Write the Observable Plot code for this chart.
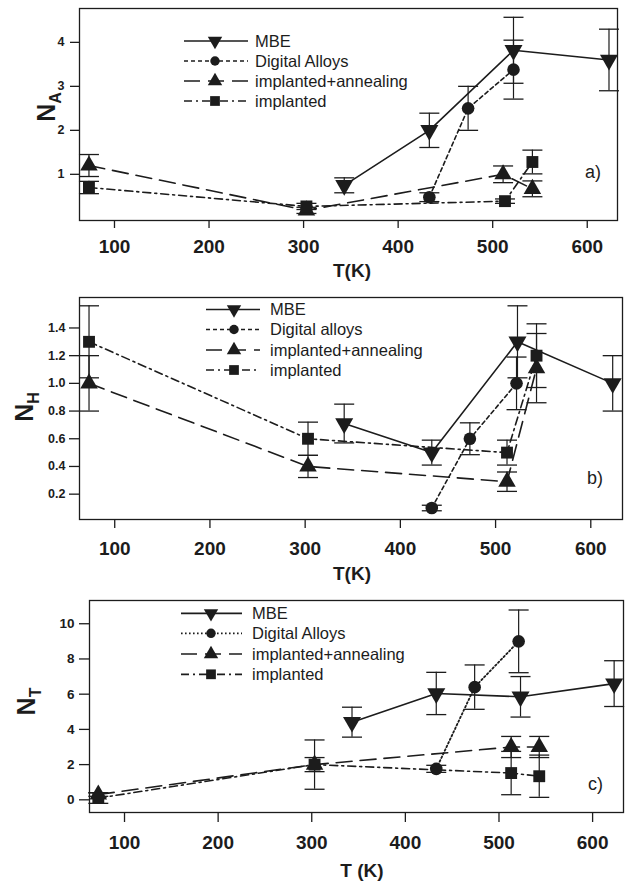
<!DOCTYPE html>
<html><head><meta charset="utf-8">
<script src="https://cdn.jsdelivr.net/npm/d3@7"></script>
<script src="https://cdn.jsdelivr.net/npm/@observablehq/plot@0.6"></script>
<style>
html,body{margin:0;padding:0;background:#fff;}
#wrap{position:relative;width:626px;height:883px;overflow:hidden;background:#fff;}
#wrap svg{position:absolute;left:0;overflow:visible;}
</style></head><body><div id="wrap"></div>
<script>
// ---------- shared ----------
const xTicks = [100, 200, 300, 400, 500, 600];
const namesA = ["MBE", "Digital Alloys", "implanted+annealing", "implanted"];
const namesB = ["MBE", "Digital alloys", "implanted+annealing", "implanted"];
const namesC = ["MBE", "Digital Alloys", "implanted+annealing", "implanted"];

// ---------- panel a) N_A ----------
const aYTicks = [1, 2, 3, 4];
const aMBE_T = [343, 433, 522, 623];
const aMBE_N = [0.75, 2.0, 3.82, 3.6];
const aMBE_E = [0.17, 0.39, 0.75, 0.7];
const aDA_T = [433, 474, 522];
const aDA_N = [0.48, 2.5, 3.38];
const aDA_E = [0.1, 0.5, 0.67];
const aIA_T = [73, 303, 511, 542];
const aIA_N = [1.2, 0.18, 1.0, 0.67];
const aIA_E = [0.25, 0.07, 0.19, 0.18];
const aIM_T = [73, 303, 513, 542];
const aIM_N = [0.7, 0.27, 0.39, 1.28];
const aIM_E = [0.14, 0.07, 0.05, 0.27];

// ---------- panel b) N_H ----------
const bYTicks = [0.2, 0.4, 0.6, 0.8, 1.0, 1.2, 1.4];
const bMBE_T = [341, 433, 523, 623];
const bMBE_N = [0.71, 0.5, 1.3, 1.0];
const bMBE_E = [0.14, 0.09, 0.26, 0.2];
const bDA_T = [433, 473, 522];
const bDA_N = [0.1, 0.6, 1.0];
const bDA_E = [0.02, 0.115, 0.19];
const bIA_T = [73, 303, 512, 543];
const bIA_N = [1.0, 0.4, 0.29, 1.11];
const bIA_E = [0.2, 0.08, 0.07, 0.25];
const bIM_T = [73, 303, 512, 543];
const bIM_N = [1.3, 0.6, 0.5, 1.2];
const bIM_E = [0.26, 0.12, 0.09, 0.23];

// ---------- panel c) N_T ----------
const cYTicks = [0, 2, 4, 6, 8, 10];
const cMBE_T = [343, 433, 523, 623];
const cMBE_N = [4.41, 6.04, 5.85, 6.6];
const cMBE_E = [0.85, 1.2, 1.15, 1.3];
const cDA_T = [433, 474, 521];
const cDA_N = [1.76, 6.4, 9.0];
const cDA_E = [0.2, 1.26, 1.78];
const cIA_T = [72, 303, 513, 543];
const cIA_N = [0.3, 2.0, 3.0, 3.0];
const cIA_E = [0.1, 0.4, 0.6, 0.6];
const cIM_T = [72, 303, 513, 543];
const cIM_N = [0.1, 2.0, 1.52, 1.34];
const cIM_E = [0.3, 1.4, 1.23, 1.2];

// ---------- drawing ----------
const INK = "#1c1c1c";
const FONT = "'Liberation Sans', Arial, Helvetica, sans-serif";
const capSymbol = {draw(ctx) { ctx.moveTo(-10, 0); ctx.lineTo(10, 0); }};
const downTriangle = {draw(ctx, size) {
  const h = Math.sqrt(size / (Math.sqrt(3) * 3)), s = Math.sqrt(3);
  ctx.moveTo(0, 2 * h); ctx.lineTo(-s * h, -h); ctx.lineTo(s * h, -h); ctx.closePath();
}};
const STY = [
  {symbol: downTriangle, r: 6.7, legendType: "down"},
  {symbol: "circle", r: 6.3, legendType: "circle"},
  {symbol: "triangle", r: 6.5, legendType: "up"},
  {symbol: "square", r: 6.7, legendType: "square"}
];
const rows = (T, N, E) => T.map((t, i) => ({T: t, N: N[i], e: E[i]}));

function panel(o) {
  const marks = [];
  o.series.forEach((s, k) => {
    const data = rows(s.T, s.N, s.E);
    marks.push(Plot.line(data, {x: "T", y: "N", stroke: INK, strokeWidth: s.w || 1.6, strokeDasharray: s.dash}));
  });
  o.series.forEach((s, k) => {
    const data = rows(s.T, s.N, s.E);
    marks.push(Plot.ruleX(data, {x: "T", y1: d => d.N - d.e, y2: d => d.N + d.e, stroke: INK, strokeWidth: 1.2}));
    marks.push(Plot.dot(data, {x: "T", y: d => d.N + d.e, symbol: capSymbol, fill: "none", stroke: INK, strokeWidth: 1.3}));
    marks.push(Plot.dot(data, {x: "T", y: d => d.N - d.e, symbol: capSymbol, fill: "none", stroke: INK, strokeWidth: 1.3}));
  });
  o.series.forEach((s, k) => {
    const st = STY[k];
    const data = rows(s.T, s.N, s.E);
    marks.push(Plot.dot(data, {x: "T", y: "N", symbol: st.symbol, r: st.r, fill: INK, stroke: "none"}));
  });
  marks.push(Plot.frame({stroke: INK, strokeWidth: 1.3}));
  marks.push(Plot.axisX({ticks: xTicks, tickSize: o.xTick[0], tickPadding: o.xTick[1], fontSize: 19, fontWeight: "bold", label: null, tickFormat: d => String(d), stroke: INK, strokeWidth: 1.3}));
  marks.push(Plot.axisY({ticks: o.yTicks, tickSize: o.yTick[0], tickPadding: o.yTick[1], fontSize: o.yFont, fontWeight: "bold", label: null, tickFormat: o.yFmt, stroke: INK, strokeWidth: 1.3}));

  const svg = Plot.plot({
    width: 626, height: o.height,
    marginTop: o.m[0], marginRight: o.m[1], marginBottom: o.m[2], marginLeft: o.m[3],
    x: {domain: o.xDomain},
    y: {domain: o.yDomain},
    style: {fontFamily: FONT, color: INK, background: "transparent", overflow: "visible"},
    marks
  });
  svg.style.top = o.top + "px";
  document.getElementById("wrap").appendChild(svg);
  const g = d3.select(svg).append("g").attr("font-family", FONT).attr("fill", INK).attr("text-anchor", "start");

  // legend
  const L = o.legend;
  o.series.forEach((s, k) => {
    const y = L.rows[k];
    g.append("line").attr("x1", L.x1).attr("x2", L.x2).attr("y1", y).attr("y2", y)
      .attr("stroke", INK).attr("stroke-width", s.w || 1.7).attr("stroke-dasharray", s.dash || null);
    const t = STY[k].legendType;
    const type = t === "circle" ? d3.symbolCircle : t === "square" ? d3.symbolSquare : d3.symbolTriangle;
    const size = t === "circle" ? 70 : t === "square" ? 95 : 90;
    g.append("path").attr("d", d3.symbol(type, size)())
      .attr("transform", `translate(${L.xm},${y})` + (t === "down" ? " rotate(180)" : ""))
      .attr("fill", INK);
    g.append("text").attr("x", L.xt).attr("y", y + 5.7).attr("font-size", 16.5)
      .attr("text-anchor", "start").text(o.names[k]);
  });

  // panel tag
  g.append("text").attr("x", o.tag[0]).attr("y", o.tag[1]).attr("font-size", 18)
    .attr("text-anchor", "start").text(o.tagText);
  // x label
  g.append("text").attr("x", o.xLab[0]).attr("y", o.xLab[1]).attr("text-anchor", "middle")
    .attr("font-size", 19).attr("font-weight", "bold").text(o.xLabText);
  // y label
  const yl = g.append("text").attr("transform", `translate(${o.yLab[0]},${o.yLab[1]}) rotate(-90)`)
    .attr("text-anchor", "middle").attr("font-weight", "bold");
  yl.append("tspan").attr("font-size", 25).text("N");
  yl.append("tspan").attr("font-size", 16).attr("dy", 6).text(o.ySub);
}

const DASH_DA = "4,3", DASH_IA = "16,8", DASH_IM = "8,4,2,4";

panel({
  top: 0, height: 290, m: [8, 9, 70, 79],
  xDomain: [63, 632], yDomain: [-0.05, 4.77], yTicks: aYTicks, yFmt: d => String(d), yFont: 12.5,
  xTick: [8, 11], yTick: [9, 6],
  series: [
    {T: aMBE_T, N: aMBE_N, E: aMBE_E, dash: null},
    {T: aDA_T, N: aDA_N, E: aDA_E, dash: DASH_DA},
    {T: aIA_T, N: aIA_N, E: aIA_E, dash: DASH_IA},
    {T: aIM_T, N: aIM_N, E: aIM_E, dash: DASH_IM}
  ],
  names: namesA,
  legend: {x1: 184, x2: 248, xm: 215, xt: 255, rows: [41, 61, 81, 101]},
  tag: [585, 178], tagText: "a)",
  xLab: [352, 277], xLabText: "T(K)",
  yLab: [55, 107], ySub: "A"
});

panel({
  top: 290, height: 295, m: [7, 4, 66, 79],
  xDomain: [63, 633.3], yDomain: [0.017, 1.62], yTicks: bYTicks, yFmt: d3.format(".1f"), yFont: 12.5,
  xTick: [9, 13], yTick: [10, 4],
  series: [
    {T: bMBE_T, N: bMBE_N, E: bMBE_E, dash: null},
    {T: bDA_T, N: bDA_N, E: bDA_E, dash: DASH_DA},
    {T: bIA_T, N: bIA_N, E: bIA_E, dash: DASH_IA},
    {T: bIM_T, N: bIM_N, E: bIM_E, dash: DASH_IM}
  ],
  names: namesB,
  legend: {x1: 206, x2: 260, xm: 234, xt: 270, rows: [19.5, 39.5, 60, 80]},
  tag: [587, 194], tagText: "b)",
  xLab: [352, 290], xLabText: "T(K)",
  yLab: [33, 117], ySub: "H"
});

panel({
  top: 585, height: 298, m: [15, 3, 71, 89],
  xDomain: [62.6, 633], yDomain: [-0.72, 11.32], yTicks: cYTicks, yFmt: d => String(d), yFont: 13.5,
  xTick: [10, 13], yTick: [10, 5],
  series: [
    {T: cMBE_T, N: cMBE_N, E: cMBE_E, dash: null},
    {T: cDA_T, N: cDA_N, E: cDA_E, dash: "1.6,2.4", w: 1.8},
    {T: cIA_T, N: cIA_N, E: cIA_E, dash: DASH_IA},
    {T: cIM_T, N: cIM_N, E: cIM_E, dash: DASH_IM}
  ],
  names: namesC,
  legend: {x1: 181, x2: 242, xm: 211, xt: 252, rows: [28.3, 48.3, 69, 89.3]},
  tag: [588, 205], tagText: "c)",
  xLab: [362, 292], xLabText: "T (K)",
  yLab: [35, 116.5], ySub: "T"
});
</script>
</body></html>
